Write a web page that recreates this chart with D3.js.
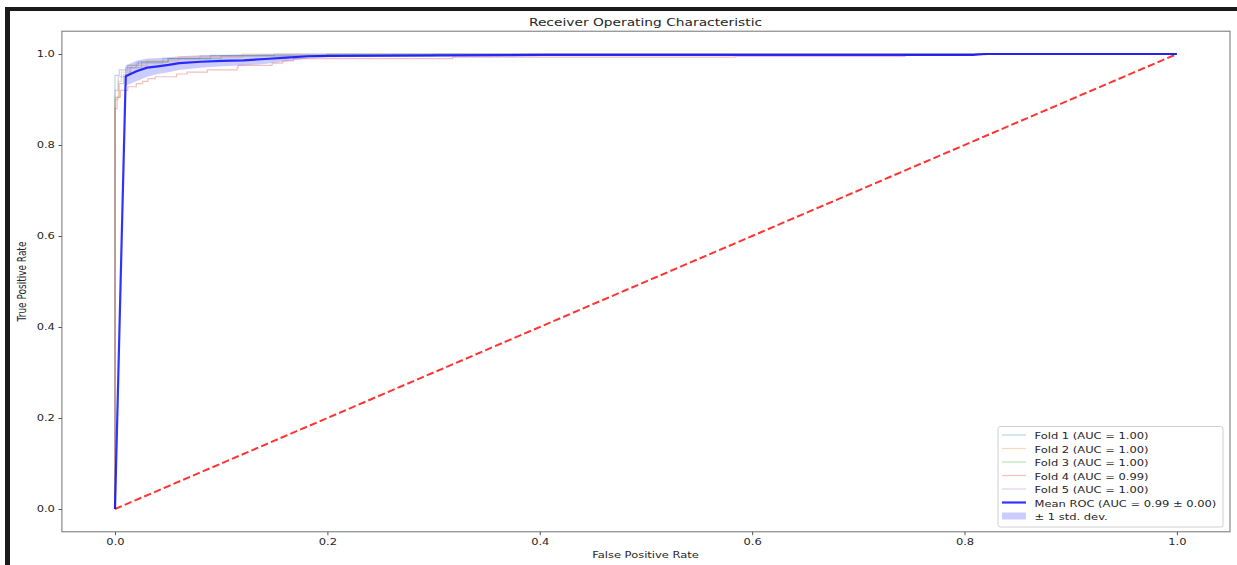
<!DOCTYPE html>
<html>
<head>
<meta charset="utf-8">
<script src="https://cdn.jsdelivr.net/npm/d3@7"></script>
<style>
  html, body { margin: 0; padding: 0; background: #fff; }
  svg { display: block; }
  text { font-family: "DejaVu Sans", sans-serif; fill: #262626; }
</style>
</head>
<body>
<svg id="chart" width="1237" height="565"></svg>
<script>
// ---------------- data ----------------
const title = "Receiver Operating Characteristic";
const xLabel = "False Positive Rate";
const yLabel = "True Positive Rate";
const tickValues = [0.0, 0.2, 0.4, 0.6, 0.8, 1.0];

const foldLabels = [
  "Fold 1 (AUC = 1.00)",
  "Fold 2 (AUC = 1.00)",
  "Fold 3 (AUC = 1.00)",
  "Fold 4 (AUC = 0.99)",
  "Fold 5 (AUC = 1.00)"
];
const foldColors = ["#1f77b4", "#ff7f0e", "#2ca02c", "#d62728", "#9467bd"];

// step ROC curves: [fpr, tpr]
const fold1 = [[0,0],[0,0.953],[0.004,0.953],[0.004,0.965],[0.012,0.965],[0.012,0.975],[0.022,0.975],[0.022,0.983],[0.05,0.983],[0.05,0.99],[0.09,0.99],[0.09,0.997],[0.15,0.997],[0.15,1],[1,1]];
const fold2 = [[0,0],[0,0.90],[0.003,0.90],[0.003,0.94],[0.006,0.94],[0.006,0.96],[0.015,0.96],[0.015,0.975],[0.03,0.975],[0.03,0.985],[0.06,0.985],[0.06,0.993],[0.12,0.993],[0.12,1],[1,1]];
const fold3 = [[0,0],[0,0.905],[0.004,0.905],[0.004,0.935],[0.008,0.935],[0.008,0.955],[0.014,0.955],[0.014,0.97],[0.025,0.97],[0.025,0.982],[0.05,0.982],[0.05,0.99],[0.1,0.99],[0.1,0.996],[0.2,0.996],[0.2,1],[1,1]];
const fold4 = [[0,0],[0,0.88],[0.002,0.88],[0.002,0.905],[0.005,0.905],[0.005,0.92],[0.012,0.92],[0.012,0.928],[0.02,0.928],[0.02,0.935],[0.026,0.935],[0.026,0.94],[0.031,0.94],[0.031,0.946],[0.038,0.946],[0.038,0.95],[0.058,0.95],[0.058,0.956],[0.068,0.956],[0.068,0.96],[0.087,0.96],[0.087,0.965],[0.115,0.965],[0.115,0.97],[0.116,0.97],[0.116,0.975],[0.148,0.975],[0.148,0.98],[0.158,0.98],[0.158,0.985],[0.168,0.985],[0.168,0.99],[0.318,0.99],[0.318,0.993],[0.584,0.993],[0.584,0.995],[0.744,0.995],[0.744,0.998],[0.82,0.998],[0.82,1],[1,1]];
const fold5 = [[0,0],[0,0.92],[0.003,0.92],[0.003,0.95],[0.01,0.95],[0.01,0.97],[0.02,0.97],[0.02,0.98],[0.045,0.98],[0.045,0.99],[0.08,0.99],[0.08,0.996],[0.3,0.996],[0.3,1],[1,1]];
const folds = [fold1, fold2, fold3, fold4, fold5];

const meanFpr  = [0, 0.0101, 0.0202, 0.0303, 0.0404, 0.0505, 0.0606, 0.0808, 0.101, 0.121, 0.141, 0.162, 0.182, 0.202, 0.303, 0.404, 0.576, 0.586, 0.737, 0.747, 0.808, 0.818, 1.0];
const meanTpr  = [0, 0.951, 0.962, 0.970, 0.973, 0.976, 0.980, 0.983, 0.985, 0.986, 0.989, 0.992, 0.995, 0.996, 0.997, 0.998, 0.998, 0.998, 0.998, 0.998, 0.998, 1.0, 1.0];
const stdLower = [0, 0.930, 0.940, 0.950, 0.956, 0.960, 0.965, 0.970, 0.973, 0.975, 0.978, 0.984, 0.990, 0.993, 0.994, 0.996, 0.996, 0.996, 0.996, 0.996, 0.996, 1.0, 1.0];
const stdUpper = [0, 0.975, 0.985, 0.990, 0.991, 0.993, 0.995, 0.997, 0.998, 0.999, 1.0, 1.0, 1.0, 1.0, 1.0, 1.0, 1.0, 1.0, 1.0, 1.0, 1.0, 1.0, 1.0];
const meanLabel = "Mean ROC (AUC = 0.99 \u00b1 0.00)";
const stdLabel = "\u00b1 1 std. dev.";

// ---------------- layout ----------------
const SY = 0.78;           // vertical squash of glyphs in the reference
const FS = 11.5;           // base font size
const svg = d3.select("#chart");

// black frame (top & left)
svg.append("rect").attr("x", 5).attr("y", 7).attr("width", 1232).attr("height", 4).attr("fill", "#1a1a1a");
svg.append("rect").attr("x", 5).attr("y", 7).attr("width", 5).attr("height", 558).attr("fill", "#1a1a1a");

const x = d3.scaleLinear().domain([-0.05, 1.05]).range([61.9, 1230]);
const y = d3.scaleLinear().domain([-0.05, 1.05]).range([531.75, 31.25]);

const g = svg.append("g");

// std band
const bandData = meanFpr.map((f, i) => ({f, lo: stdLower[i], hi: stdUpper[i]}));
g.append("path").datum(bandData)
  .attr("d", d3.area().x(d => x(d.f)).y0(d => y(d.lo)).y1(d => y(d.hi)))
  .attr("fill", "blue").attr("fill-opacity", 0.2).attr("stroke", "none");

// fold curves
const line = d3.line().x(d => x(d[0])).y(d => y(d[1]));
folds.forEach((f, i) => {
  g.append("path").datum(f).attr("d", line)
    .attr("fill", "none").attr("stroke", foldColors[i]).attr("stroke-opacity", 0.3).attr("stroke-width", 1.2);
});

// diagonal
g.append("path").datum([[0,0],[1,1]]).attr("d", line)
  .attr("fill", "none").attr("stroke", "red").attr("stroke-opacity", 0.8)
  .attr("stroke-width", 2).attr("stroke-dasharray", "7.4,3.2");

// mean ROC
g.append("path").datum(meanFpr.map((f, i) => [f, meanTpr[i]])).attr("d", line)
  .attr("fill", "none").attr("stroke", "blue").attr("stroke-opacity", 0.8).attr("stroke-width", 2.2)
  .attr("stroke-linejoin", "round");

// spines
svg.append("rect").attr("x", 61.9).attr("y", 31.25).attr("width", 1230 - 61.9).attr("height", 531.75 - 31.25)
  .attr("fill", "none").attr("stroke", "#8a8a8a").attr("stroke-width", 1.2);

// axes
const fmt = d3.format(".1f");
const xAxis = svg.append("g").attr("transform", "translate(0,531.75)")
  .call(d3.axisBottom(x).tickValues(tickValues).tickFormat(fmt).tickSize(3.5).tickSizeOuter(0));
const yAxis = svg.append("g").attr("transform", "translate(61.9,0)")
  .call(d3.axisLeft(y).tickValues(tickValues).tickFormat(fmt).tickSize(3.5).tickSizeOuter(0));
[xAxis, yAxis].forEach(a => {
  a.select(".domain").remove();
  a.selectAll(".tick line").attr("stroke", "#555").attr("stroke-width", 1);
  a.selectAll(".tick text").style("font-family", "DejaVu Sans, sans-serif")
    .attr("font-size", FS).attr("fill", "#262626");
});
xAxis.selectAll(".tick text").attr("dy", null).attr("y", 13.5 / SY).attr("transform", `scale(1,${SY})`);
yAxis.selectAll(".tick text").attr("x", -7).attr("transform", `scale(1,${SY})`);

// title & labels
function txt(str, tx, ty, size, anchor, rot) {
  return svg.append("text").text(str)
    .attr("transform", `translate(${tx},${ty}) scale(1,${SY})` + (rot ? ` rotate(${rot})` : ""))
    .attr("font-size", size).attr("text-anchor", anchor || "start");
}
txt(title, 645.5, 26, FS * 1.2, "middle");
txt(xLabel, 645.5, 558, FS, "middle");
txt(yLabel, 26, 281.5, FS, "middle", -90);

// legend
const lg = svg.append("g");
lg.append("rect").attr("x", 998).attr("y", 426.5).attr("width", 225).attr("height", 100.5)
  .attr("rx", 2.5).attr("fill", "#fff").attr("fill-opacity", 0.8).attr("stroke", "#d0d0d0").attr("stroke-width", 1);
const rowY = i => 435 + i * 13.5;
foldLabels.forEach((lab, i) => {
  lg.append("line").attr("x1", 1002).attr("x2", 1026).attr("y1", rowY(i)).attr("y2", rowY(i))
    .attr("stroke", foldColors[i]).attr("stroke-opacity", 0.3).attr("stroke-width", 1.2);
  txt(lab, 1034.5, rowY(i) + 4, FS, "start");
});
lg.append("line").attr("x1", 1002).attr("x2", 1026).attr("y1", rowY(5)).attr("y2", rowY(5))
  .attr("stroke", "blue").attr("stroke-opacity", 0.8).attr("stroke-width", 2.2);
txt(meanLabel, 1034.5, rowY(5) + 4, FS, "start");
lg.append("rect").attr("x", 1002).attr("y", rowY(6) - 3.5).attr("width", 24).attr("height", 7)
  .attr("fill", "blue").attr("fill-opacity", 0.2);
txt(stdLabel, 1034.5, rowY(6) + 4, FS, "start");
</script>
</body>
</html>
